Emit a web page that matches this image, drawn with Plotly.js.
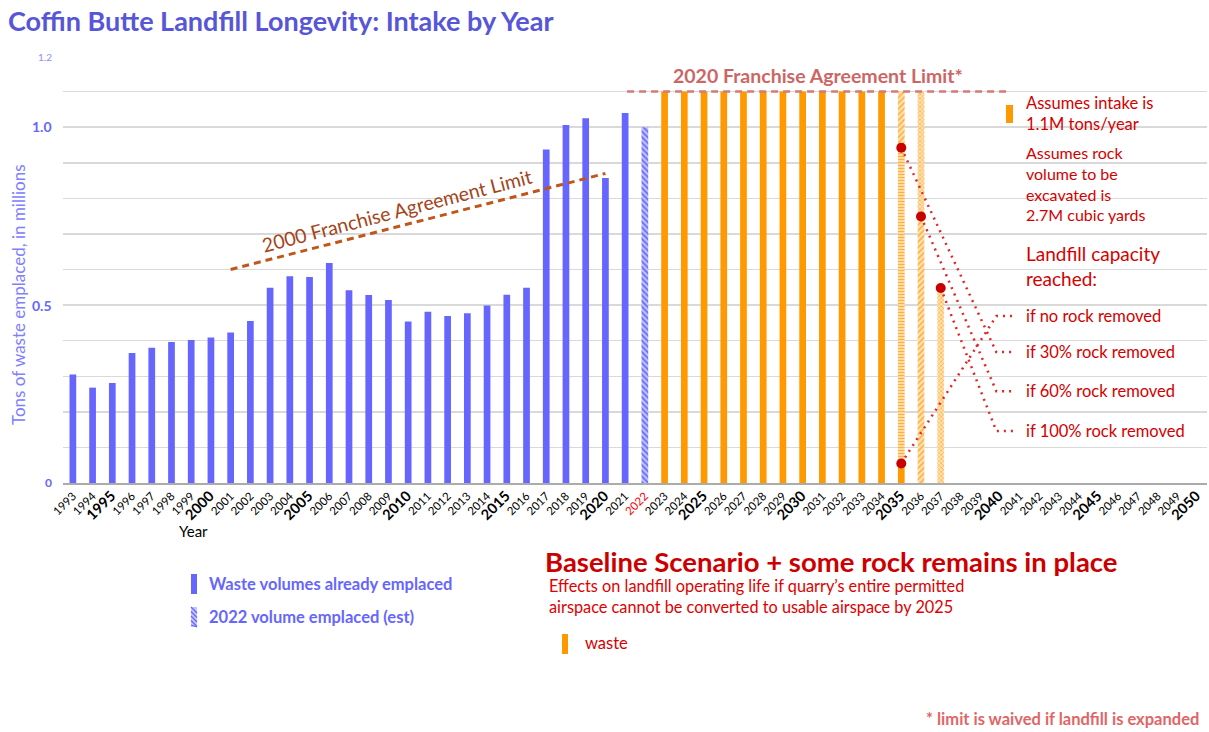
<!DOCTYPE html>
<html>
<head>
<meta charset="utf-8">
<script src="https://cdn.plot.ly/plotly-3.0.1.min.js"></script>
<style>
html,body{margin:0;padding:0;background:#ffffff;}
#chart{width:1209px;height:732px;}
</style>
</head>
<body>
<div id="chart"></div>
<script>
// ---------------- DATA ----------------
const yearLabels = [1993,1994,1995,1996,1997,1998,1999,2000,2001,2002,2003,2004,2005,2006,2007,2008,2009,2010,
  2011,2012,2013,2014,2015,2016,2017,2018,2019,2020,2021,2022,2023,2024,2025,2026,2027,2028,2029,2030,
  2031,2032,2033,2034,2035,2036,2037,2038,2039,2040,2041,2042,2043,2044,2045,2046,2047,2048,2049,2050];

const emplacedYears = [1993,1994,1995,1996,1997,1998,1999,2000,2001,2002,2003,2004,2005,2006,2007,2008,2009,2010,
  2011,2012,2013,2014,2015,2016,2017,2018,2019,2020,2021];
const emplacedTons = [0.305,0.268,0.281,0.365,0.380,0.396,0.402,0.409,0.423,0.455,0.549,0.581,0.579,0.618,0.542,0.528,0.514,0.454,
  0.481,0.469,0.477,0.499,0.529,0.549,0.937,1.006,1.025,0.857,1.040];

const estYears = [2022];
const estTons = [1.00];

const intakeYears = [2023,2024,2025,2026,2027,2028,2029,2030,2031,2032,2033,2034];
const intakeTons = [1.1,1.1,1.1,1.1,1.1,1.1,1.1,1.1,1.1,1.1,1.1,1.1];
const projectedIntake = 1.1;

// capacity reached, per rock-removal scenario
const scenarioNames = ['if no rock removed','if 30% rock removed','if 60% rock removed','if 100% rock removed'];
const capacityYears = [2035,2035,2036,2037];
const capacityTons = [0.055,0.942,0.749,0.548];
const scenarioLevels = [0.469,0.368,0.258,0.146];

const limit2000Years = [2001,2020];
const limit2000Tons = [0.600,0.870];
const limit2020Years = [2021.1,2040.5];
const limit2020Tons = [1.1,1.1];

const yTickVals = [0,0.1,0.2,0.3,0.4,0.5,0.6,0.7,0.8,0.9,1.0,1.1,1.2];

// ---------------- STYLE ----------------
const BLUE = '#6666ff';
const ORANGE = '#ff9900';
const RED = '#d40000';
const FONT = 'Lato, "Open Sans", sans-serif';
const BARW = 0.34;

// pixel -> paper helpers (plot area: x 63..1207, y 56..483)
const L = 63, R = 2, T = 56, B = 249, W = 1209, H = 732;
const PW = W - L - R, PH = H - T - B;
const px = x => (x - L) / PW;
const py = y => (H - B - y) / PH;

const lightOrange = '#ffe2b8';
const patOrange = '#ffb038';

// ---------------- TRACES ----------------
const traces = [];
traces.push({type:'bar', x: emplacedYears, y: emplacedTons, width: BARW,
  marker:{color: BLUE, line:{width:0}}, hoverinfo:'x+y'});
traces.push({type:'bar', x: estYears, y: estTons, width: BARW,
  marker:{color:'#c4c4ff', line:{width:0}, pattern:{shape:'\\', fgcolor: BLUE, bgcolor:'#c4c4ff', size:4, solidity:0.45}}});
traces.push({type:'bar', x: intakeYears, y: intakeTons, width: BARW,
  marker:{color: ORANGE, line:{width:0}}});
// 2035: solid until the no-rock capacity point
traces.push({type:'bar', x: [capacityYears[0]], y: [capacityTons[0]], width: BARW,
  marker:{color: ORANGE, line:{width:0}}});
// 2035 (30%) filled portion: horizontal stripes
traces.push({type:'bar', x: [capacityYears[1]], base: [capacityTons[0]],
  y: [capacityTons[1]-capacityTons[0]], width: BARW,
  marker:{color: lightOrange, line:{width:0}, pattern:{shape:'-', fgcolor: patOrange, bgcolor: lightOrange, size:3, solidity:0.45}}});
// 2036 (60%) filled portion: diagonal
traces.push({type:'bar', x: [capacityYears[2]], base: [0],
  y: [capacityTons[2]], width: BARW,
  marker:{color: lightOrange, line:{width:0}, pattern:{shape:'/', fgcolor: patOrange, bgcolor: lightOrange, size:4, solidity:0.4}}});
// 2037 (100%) filled portion: checker
traces.push({type:'bar', x: [capacityYears[3]], base: [0],
  y: [capacityTons[3]], width: BARW,
  marker:{color: lightOrange, line:{width:0}, pattern:{shape:'x', fgcolor: patOrange, bgcolor: lightOrange, size:3, solidity:0.4}}});
// remainders above the capacity points
traces.push({type:'bar', x: [capacityYears[1]], base: [capacityTons[1]],
  y: [projectedIntake-capacityTons[1]], width: BARW,
  marker:{color: lightOrange, line:{width:0}, pattern:{shape:'/', fgcolor: patOrange, bgcolor: lightOrange, size:4, solidity:0.4}}});
traces.push({type:'bar', x: [capacityYears[2]], base: [capacityTons[2]],
  y: [projectedIntake-capacityTons[2]], width: BARW,
  marker:{color: lightOrange, line:{width:0}, pattern:{shape:'x', fgcolor: patOrange, bgcolor: lightOrange, size:3, solidity:0.4}}});

// limits
traces.push({type:'scatter', mode:'lines', x: limit2000Years, y: limit2000Tons,
  line:{color:'#c0561a', width:3, dash:'7px,5px'}, hoverinfo:'skip'});
traces.push({type:'scatter', mode:'lines', x: limit2020Years, y: limit2020Tons,
  line:{color:'#d47a7a', width:2.5, dash:'7px,5px'}, hoverinfo:'skip'});

// scenario dotted connectors
for (let i = 0; i < scenarioNames.length; i++) {
  traces.push({type:'scatter', mode:'lines',
    x: [capacityYears[i], 2039.82, 2040.75],
    y: [capacityTons[i], scenarioLevels[i], scenarioLevels[i]],
    line:{color:'#e02626', width:2.5, dash:'2px,5px'}, hoverinfo:'skip'});
}
traces.push({type:'scatter', mode:'markers', x: capacityYears, y: capacityTons,
  marker:{color:'#c80000', size:10}, hoverinfo:'x+y'});

// ---------------- ANNOTATIONS ----------------
const ann = [];
function txt(text, x, y, size, color, opts) {
  ann.push(Object.assign({text, x: px(x), y: py(y), xref:'paper', yref:'paper', showarrow:false,
    xanchor:'left', yanchor:'middle', align:'left', font:{family: FONT, size, color}}, opts || {}));
}
// y tick labels
txt('1.2', 54, 57, 10, '#8c8cff', {xanchor:'right'});
txt('<b>1.0</b>', 54, 127, 14, BLUE, {xanchor:'right'});
txt('<b>0.5</b>', 54, 305, 14, BLUE, {xanchor:'right'});
txt('<b>0</b>', 54, 482, 12, BLUE, {xanchor:'right'});
// y title
txt('Tons of waste emplaced, in millions', 18, 295, 17, '#8080ff', {xanchor:'center', textangle:-90});
// x title
txt('Year', 193, 531, 15, '#000000', {xanchor:'center'});
// franchise labels
ann.push({text:'2000 Franchise Agreement Limit', x: 2009.45, y: 0.765, xref:'x', yref:'y', showarrow:false,
  textangle:-14.5, font:{family: FONT, size:19.5, color:'#a3441a'}});
txt('<b>2020 Franchise Agreement Limit*</b>', 818, 75, 19.5, '#cc6666', {xanchor:'center'});
// right notes (multi-line blocks)
txt('Assumes intake is<br>1.1M tons/year', 1024, 113.5, 16.5, RED);
txt('Assumes rock<br>volume to be<br>excavated is<br>2.7M cubic yards', 1024, 183, 16, RED);
txt('Landfill capacity<br>reached:', 1024, 266, 19, RED);
for (let i = 0; i < scenarioNames.length; i++) {
  ann.push({text: scenarioNames[i], x: px(1024), y: scenarioLevels[i], xref:'paper', yref:'y', showarrow:false,
    xanchor:'left', yanchor:'middle', font:{family: FONT, size:16.5, color: RED}});
}
// bottom legends / captions
txt('<b>Waste volumes already emplaced</b>', 207, 584, 16.5, BLUE);
txt('<b>2022 volume emplaced (est)</b>', 207, 617, 16.5, BLUE);
txt('<b>Baseline Scenario + some rock remains in place</b>', 831, 561, 27.5, '#cc0000', {xanchor:'center'});
txt('Effects on landfill operating life if quarry\u2019s entire permitted<br>airspace cannot be converted to usable airspace by 2025', 547, 595.5, 16.3, '#e00000');
txt('waste', 583, 643, 16.5, RED);
txt('<b>* limit is waived if landfill is expanded</b>', 1201, 719, 16.5, '#e06666', {xanchor:'right'});

// ---------------- SHAPES ----------------
const shapes = [];
function rectPx(x0, y0, x1, y1, color, layer) {
  shapes.push({type:'rect', xref:'paper', yref:'paper', x0: px(x0), x1: px(x1), y0: py(y1), y1: py(y0),
    fillcolor: color, line:{width:0}, layer: layer || 'above'});
}
// darker major gridlines
[0.5, 1.0].forEach(v => shapes.push({type:'line', xref:'paper', yref:'y', x0:0, x1:1, y0:v, y1:v,
  line:{color:'#a6a6a6', width:1.5}, layer:'between'}));
// white text box hiding gridlines on the right
rectPx(991, 97, 1187, 442, '#ffffff', 'between');
// legend icons
rectPx(191, 574, 197, 594, BLUE);
rectPx(191, 607, 197, 627, '#c4c4ff');
for (let k = 0; k < 5; k++) {
  const y0 = 607 + k * 4.5;
  shapes.push({type:'line', xref:'paper', yref:'paper', x0: px(191), x1: px(197),
    y0: py(y0), y1: py(Math.min(y0 + 6, 627)), line:{color: BLUE, width:1.3}});
}
rectPx(1006, 105, 1013, 123, ORANGE);
rectPx(562, 634, 568, 654, ORANGE);

// ---------------- LAYOUT ----------------
const tickText = yearLabels.map(y => {
  if (y === 2022) return '<span style="color:#ff0000">' + y + '</span>';
  if (y % 5 === 0) return '<b><span style="font-size:14.5px">' + y + '</span></b>';
  return String(y);
});

const layout = {
  width: W, height: H,
  margin: {l: L, r: R, t: T, b: B, pad: 0},
  paper_bgcolor:'#ffffff', plot_bgcolor:'#ffffff',
  showlegend: false,
  barmode: 'overlay',
  font: {family: FONT, color:'#000000'},
  title: {text:'<b>Coffin Butte Landfill Longevity: Intake by Year</b>', x: 8/W, xanchor:'left', xref:'container',
    y: 1 - 22/H, yanchor:'middle', yref:'container', font:{family: FONT, size:27, color:'#5656d6'}},
  xaxis: {range:[1992.5, 2050.5], tickmode:'array', tickvals: yearLabels, ticktext: tickText,
    tickangle:-45, tickfont:{family: FONT, size:11.5, color:'#000000'}, showgrid:false, zeroline:false,
    showline:true, linecolor:'#ababab', linewidth:2, ticks:'', fixedrange:true},
  yaxis: {range:[0, 1.2], tickmode:'array', tickvals: yTickVals, showticklabels:false,
    showgrid:true, gridcolor:'#d9d9d9', gridwidth:1.5, zeroline:false, showline:false, fixedrange:true},
  annotations: ann,
  shapes: shapes
};

Plotly.newPlot('chart', traces, layout, {displayModeBar:false, staticPlot:true});
</script>
</body>
</html>
